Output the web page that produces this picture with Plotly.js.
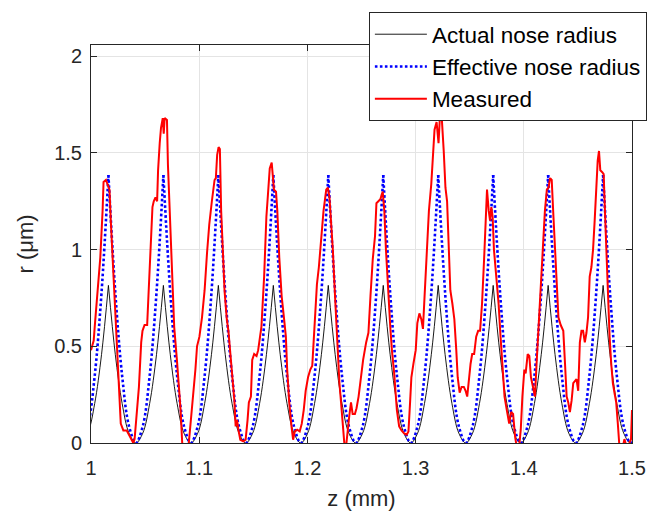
<!DOCTYPE html>
<html>
<head>
<meta charset="utf-8">
<script src="https://cdn.plot.ly/plotly-3.0.1.min.js"></script>
<style>html,body{margin:0;padding:0;background:#fff;}#chart{width:659px;height:520px;}</style>
</head>
<body>
<div id="chart"></div>
<script>
// Model curves (arcs between cusps); null separates arcs
var zModel = [
0.9653,0.97165,0.978,0.98435,0.9907,0.99705,1.0034,1.00975,1.0161,null,
1.0161,1.02245,1.0288,1.03515,1.0415,1.04785,1.0542,1.06055,1.0669,null,
1.0669,1.07325,1.0796,1.08595,1.0923,1.09865,1.105,1.11135,1.1177,null,
1.1177,1.12405,1.1304,1.13675,1.1431,1.14945,1.1558,1.16215,1.1685,null,
1.1685,1.17485,1.1812,1.18755,1.1939,1.20025,1.2066,1.21295,1.2193,null,
1.2193,1.22565,1.232,1.23835,1.2447,1.25105,1.2574,1.26375,1.2701,null,
1.2701,1.27645,1.2828,1.28915,1.2955,1.30185,1.3082,1.31455,1.3209,null,
1.3209,1.32725,1.3336,1.33995,1.3463,1.35265,1.359,1.36535,1.3717,null,
1.3717,1.37805,1.3844,1.39075,1.3971,1.40345,1.4098,1.41615,1.4225,null,
1.4225,1.42885,1.4352,1.44155,1.4479,1.45425,1.4606,1.46695,1.4733,null,
1.4733,1.47965,1.486,1.49235,1.4987,1.50505,1.5114,1.51775,1.5241
];
var rActual = [
0.815,0.4584,0.2038,0.0509,0,0.0509,0.2038,0.4584,0.815,null,
0.815,0.4584,0.2038,0.0509,0,0.0509,0.2038,0.4584,0.815,null,
0.815,0.4584,0.2038,0.0509,0,0.0509,0.2038,0.4584,0.815,null,
0.815,0.4584,0.2038,0.0509,0,0.0509,0.2038,0.4584,0.815,null,
0.815,0.4584,0.2038,0.0509,0,0.0509,0.2038,0.4584,0.815,null,
0.815,0.4584,0.2038,0.0509,0,0.0509,0.2038,0.4584,0.815,null,
0.815,0.4584,0.2038,0.0509,0,0.0509,0.2038,0.4584,0.815,null,
0.815,0.4584,0.2038,0.0509,0,0.0509,0.2038,0.4584,0.815,null,
0.815,0.4584,0.2038,0.0509,0,0.0509,0.2038,0.4584,0.815,null,
0.815,0.4584,0.2038,0.0509,0,0.0509,0.2038,0.4584,0.815,null,
0.815,0.4584,0.2038,0.0509,0,0.0509,0.2038,0.4584,0.815
];
var rEffective = [
1.385,0.7791,0.3463,0.0866,0,0.0866,0.3463,0.7791,1.385,null,
1.385,0.7791,0.3463,0.0866,0,0.0866,0.3463,0.7791,1.385,null,
1.385,0.7791,0.3463,0.0866,0,0.0866,0.3463,0.7791,1.385,null,
1.385,0.7791,0.3463,0.0866,0,0.0866,0.3463,0.7791,1.385,null,
1.385,0.7791,0.3463,0.0866,0,0.0866,0.3463,0.7791,1.385,null,
1.385,0.7791,0.3463,0.0866,0,0.0866,0.3463,0.7791,1.385,null,
1.385,0.7791,0.3463,0.0866,0,0.0866,0.3463,0.7791,1.385,null,
1.385,0.7791,0.3463,0.0866,0,0.0866,0.3463,0.7791,1.385,null,
1.385,0.7791,0.3463,0.0866,0,0.0866,0.3463,0.7791,1.385,null,
1.385,0.7791,0.3463,0.0866,0,0.0866,0.3463,0.7791,1.385,null,
1.385,0.7791,0.3463,0.0866,0,0.0866,0.3463,0.7791,1.385
];

// Measured profile
var zMeas = [
1.0000,1.0025,1.0037,1.0061,1.0086,1.0107,1.0116,1.0138,1.0159,1.0171,1.0183,1.0199,1.0214,1.0238,1.0260,1.0275,1.0299,1.0330,1.0351,1.0373,1.0391,1.0403,1.0422,1.0443,1.0464,1.0476,1.0495,1.0519,1.0531,1.0550,1.0568,1.0580,1.0596,1.0611,1.0620,1.0635,1.0647,1.0663,1.0672,1.0681,1.0702,1.0711,1.0727,1.0748,1.0769,1.0794,
1.0812,1.0828,1.0843,1.0873,1.0904,1.0934,1.0965,1.0980,1.1002,1.1026,1.1050,1.1072,1.1093,1.1117,1.1142,1.1154,1.1166,1.1179,1.1191,1.1203,1.1215,1.1234,1.1255,1.1270,1.1285,1.1307,1.1325,1.1337,1.1350,1.1362,1.1380,1.1408,1.1429,1.1447,1.1459,1.1478,1.1490,1.1508,1.1530,1.1545,1.1560,1.1575,1.1600,1.1621,1.1636,1.1652,
1.1670,1.1691,1.1710,1.1722,1.1740,1.1762,1.1783,1.1801,1.1813,1.1832,1.1853,1.1868,1.1884,1.1905,1.1929,1.1948,1.1966,1.1984,1.2006,1.2027,1.2045,1.2067,1.2088,1.2106,1.2128,1.2149,1.2174,1.2189,1.2204,1.2219,1.2235,1.2250,1.2265,1.2280,1.2296,1.2311,1.2326,1.2341,1.2357,1.2372,1.2387,1.2403,1.2418,1.2439,1.2454,1.2473,1.2494,1.2515,
1.2543,1.2564,1.2583,1.2604,1.2625,1.2638,1.2656,1.2674,1.2696,1.2711,1.2726,1.2741,1.2766,1.2781,1.2802,1.2827,1.2848,1.2870,1.2894,1.2918,1.2934,1.2949,1.2961,1.2980,1.3001,1.3016,1.3035,1.3053,1.3068,1.3083,1.3102,1.3123,1.3145,1.3163,1.3175,1.3194,1.3212,1.3224,1.3242,1.3260,1.3276,1.3291,1.3306,1.3321,1.3340,1.3358,
1.3376,1.3389,1.3407,1.3425,1.3446,1.3462,1.3477,1.3492,1.3508,1.3523,1.3541,1.3560,1.3578,1.3596,1.3614,1.3633,1.3645,1.3660,1.3676,1.3688,1.3700,1.3712,1.3724,1.3743,1.3767,1.3785,1.3804,1.3822,1.3843,1.3865,1.3883,1.3901,1.3920,1.3935,1.3957,1.3972,1.3987,1.4005,1.4017,1.4036,1.4051,1.4066,1.4085,1.4103,1.4118,1.4140,1.4158,1.4177,1.4195,
1.4213,1.4228,1.4243,1.4258,1.4274,1.4289,1.4304,1.4320,1.4341,1.4365,1.4381,1.4396,1.4411,1.4426,1.4442,1.4457,1.4472,1.4487,1.4503,1.4518,1.4533,1.4548,1.4564,1.4579,1.4594,1.4609,1.4625,1.4640,1.4655,1.4671,1.4683,1.4695,1.4707,1.4725,1.4738,1.4750,1.4762,1.4777,1.4793,1.4808,1.4823,1.4838,1.4854,1.4869,1.4884,1.4915,1.4930,1.4945,1.4969,1.4991,1.5000
];
var rMeas = [
0.48,0.53,0.62,0.77,0.96,1.20,1.35,1.36,1.32,1.31,1.15,0.96,0.76,0.52,0.26,0.10,0.065,0.065,0.043,0.017,0.0,0.02,0.14,0.29,0.52,0.58,0.61,0.61,0.76,1.00,1.22,1.25,1.27,1.25,1.41,1.55,1.63,1.68,1.60,1.68,1.67,1.44,1.20,0.86,0.60,0.43,
0.30,0.17,0.0,-0.02,0.0,0.17,0.38,0.50,0.55,0.65,0.79,0.98,1.13,1.25,1.36,1.37,1.49,1.53,1.52,1.20,1.00,0.79,0.64,0.58,0.48,0.34,0.22,0.086,0.12,0.069,0.017,0.009,0.017,0.12,0.21,0.24,0.43,0.46,0.45,0.48,0.55,0.60,0.86,1.17,1.29,1.42,
1.45,1.31,1.30,1.20,0.96,0.76,0.65,0.55,0.38,0.21,0.086,0.017,0.06,0.069,0.06,0.10,0.17,0.27,0.34,0.38,0.40,0.60,0.82,0.91,1.07,1.20,1.31,1.32,1.27,1.15,1.00,0.82,0.65,0.48,0.31,0.21,0.10,0.0,-0.02,0.07,0.14,0.21,0.15,0.15,0.18,0.24,0.34,0.43,
0.52,0.57,0.76,0.95,1.07,1.24,1.25,1.26,1.30,1.20,1.00,0.82,0.60,0.48,0.36,0.17,0.086,0.065,0.05,0.043,0.06,0.21,0.34,0.41,0.48,0.62,0.67,0.64,0.59,0.76,1.00,1.20,1.34,1.48,1.62,1.66,1.55,1.68,1.68,1.51,1.32,1.25,1.03,0.79,0.72,0.64,
0.48,0.34,0.26,0.29,0.29,0.27,0.24,0.34,0.41,0.46,0.46,0.55,0.58,0.58,0.72,0.95,1.15,1.31,1.20,1.15,1.22,1.17,1.00,0.89,0.72,0.55,0.38,0.24,0.17,0.10,0.16,0.15,0.03,-0.02,-0.02,0.07,0.24,0.38,0.36,0.46,0.45,0.34,0.29,0.24,0.41,0.65,0.82,1.00,1.20,
1.31,1.32,1.37,1.36,1.17,1.00,0.82,0.65,0.61,0.58,0.41,0.24,0.21,0.16,0.22,0.31,0.32,0.33,0.27,0.52,0.58,0.58,0.52,0.57,0.65,0.86,0.91,1.00,1.15,1.37,1.46,1.51,1.41,1.40,1.39,1.20,1.00,0.76,0.55,0.41,0.31,0.26,0.21,0.10,-0.02,-0.02,0.02,-0.01,-0.01,0.02,0.17
];

var xTicks = [1, 1.1, 1.2, 1.3, 1.4, 1.5];
var xTickLabels = ['1', '1.1', '1.2', '1.3', '1.4', '1.5'];
var yTicks = [0, 0.5, 1, 1.5, 2];
var yTickLabels = ['0', '0.5', '1', '1.5', '2'];
var seriesNames = ['Actual nose radius', 'Effective nose radius', 'Measured'];

var traces = [
  {x: zModel, y: rActual, name: seriesNames[0], mode: 'lines', connectgaps: false,
   line: {color: '#000000', width: 0.9, shape: 'spline'}},
  {x: zModel, y: rEffective, name: seriesNames[1], mode: 'lines', connectgaps: false,
   line: {color: '#0000ff', width: 2.6, dash: '2.6px,2.4px', shape: 'spline'}},
  {x: zMeas, y: rMeas, name: seriesNames[2], mode: 'lines',
   line: {color: '#ff0000', width: 2}}
];

var axisCommon = {
  ticks: 'inside', ticklen: 6, tickwidth: 1, tickcolor: '#262626',
  showline: true, linecolor: '#262626', linewidth: 1, mirror: 'ticks',
  showgrid: true, gridcolor: '#e4e4e4', gridwidth: 1, zeroline: false,
  tickfont: {family: 'Liberation Sans, Arial, sans-serif', size: 20, color: '#262626'}
};

var layout = {
  width: 659, height: 520,
  margin: {l: 91, r: 22, t: 44, b: 77, pad: 0},
  paper_bgcolor: '#ffffff', plot_bgcolor: '#ffffff',
  font: {family: 'Liberation Sans, Arial, sans-serif', color: '#262626', size: 20},
  showlegend: true,
  xaxis: Object.assign({}, axisCommon, {
    range: [1, 1.5], tickmode: 'array', tickvals: xTicks, ticktext: xTickLabels,
    ticklabelstandoff: 7,
    title: {text: 'z (mm)', font: {size: 22, color: '#262626'}, standoff: 12}
  }),
  yaxis: Object.assign({}, axisCommon, {
    range: [0, 2.058], tickmode: 'array', tickvals: yTicks, ticktext: yTickLabels,
    ticklabelstandoff: 4,
    title: {text: 'r (μm)', font: {size: 22, color: '#262626'}, standoff: 14}
  }),
  legend: {
    x: 1.0275, xanchor: 'right', y: 1.0827, yanchor: 'top',
    bgcolor: '#ffffff', bordercolor: '#262626', borderwidth: 1,
    font: {family: 'Liberation Sans, Arial, sans-serif', size: 22.5, color: '#000000'},
    itemwidth: 52, tracegroupgap: 0
  }
};

Plotly.newPlot('chart', traces, layout, {displayModeBar: false, staticPlot: true});
</script>
</body>
</html>
